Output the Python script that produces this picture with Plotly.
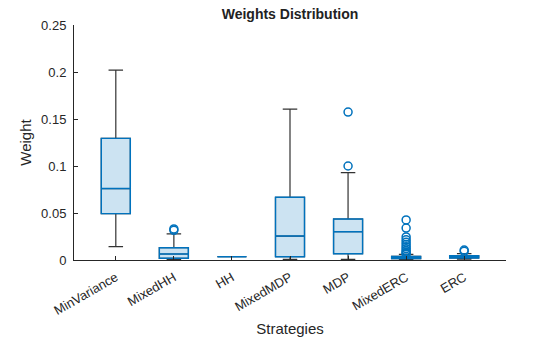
import plotly.graph_objects as go

strategies = ["MinVariance", "MixedHH", "HH", "MixedMDP", "MDP", "MixedERC", "ERC"]
q1 = [0.0493, 0.0018, 0.0035, 0.0035, 0.0067, 0.0015, 0.0022]
median = [0.0760, 0.0064, 0.0035, 0.0255, 0.0301, 0.0025, 0.0032]
q3 = [0.1294, 0.0131, 0.0035, 0.0667, 0.0436, 0.0038, 0.0045]
lowerfence = [0.0142, 0.0005, 0.0035, 0.0006, 0.0006, 0.0003, 0.0010]
upperfence = [0.2020, 0.0277, 0.0035, 0.1606, 0.0929, 0.0060, 0.0068]

outlier_x = [2, 2,
             5, 5,
             6, 6, 6, 6, 6, 6, 6, 6, 6, 6, 6, 6,
             7, 7]
outlier_y = [0.0316, 0.0330,
             0.1574, 0.1000,
             0.0426, 0.0340, 0.0245, 0.0215, 0.0190, 0.0165, 0.0140, 0.0120, 0.0100, 0.0085, 0.0072, 0.0062,
             0.0106, 0.0092]

xpos = list(range(1, len(strategies) + 1))
blue = "#0072BD"
dark = "#333333"

fig = go.Figure()
# whiskers + caps (dark gray)
fig.add_trace(go.Box(
    x=xpos, q1=q1, median=median, q3=q3,
    lowerfence=lowerfence, upperfence=upperfence,
    width=0.5, whiskerwidth=0.5,
    line=dict(color=dark, width=1.2),
    fillcolor="rgba(0,0,0,0)",
    boxpoints=False, hoverinfo="skip", showlegend=False,
))
# boxes (blue)
fig.add_trace(go.Box(
    x=xpos, q1=q1, median=median, q3=q3,
    lowerfence=q1, upperfence=q3,
    width=0.5, whiskerwidth=0,
    line=dict(color=blue, width=1.4),
    fillcolor="rgba(0,114,189,0.2)",
    boxpoints=False, showlegend=False,
))
# outliers
fig.add_trace(go.Scatter(
    x=outlier_x, y=outlier_y, mode="markers",
    marker=dict(symbol="circle-open", size=8, color=blue, line=dict(width=1.5, color=blue)),
    showlegend=False,
))

font = "Liberation Sans, Arial, sans-serif"
fig.update_layout(
    width=560, height=337,
    margin=dict(l=74, r=54, t=25, b=77),
    paper_bgcolor="white", plot_bgcolor="white",
    boxmode="overlay",
    font=dict(family=font, size=13, color="#262626"),
    title=dict(text="<b>Weights Distribution</b>", x=290 / 560,
               xanchor="center", y=1 - 14 / 337, yanchor="middle",
               font=dict(size=14, color="#222222", family=font)),
    xaxis=dict(
        tickmode="array", tickvals=xpos, ticktext=strategies,
        range=[0.28, 7.72], tickangle=-30, automargin=False,
        ticklabelstandoff=4,
        showline=True, linecolor="#262626", linewidth=1,
        ticks="inside", ticklen=4, tickcolor="#262626",
        showgrid=False, zeroline=False,
        title=dict(text="Strategies", font=dict(size=15), standoff=6),
    ),
    yaxis=dict(
        range=[0, 0.25], tickvals=[0, 0.05, 0.1, 0.15, 0.2, 0.25],
        ticktext=["0", "0.05", "0.1", "0.15", "0.2", "0.25"],
        automargin=False, ticklabelstandoff=4,
        showline=True, linecolor="#262626", linewidth=1,
        ticks="inside", ticklen=4, tickcolor="#262626",
        showgrid=False, zeroline=False,
        title=dict(text="Weight", font=dict(size=15), standoff=5),
    ),
)

fig.write_html("out.html")
